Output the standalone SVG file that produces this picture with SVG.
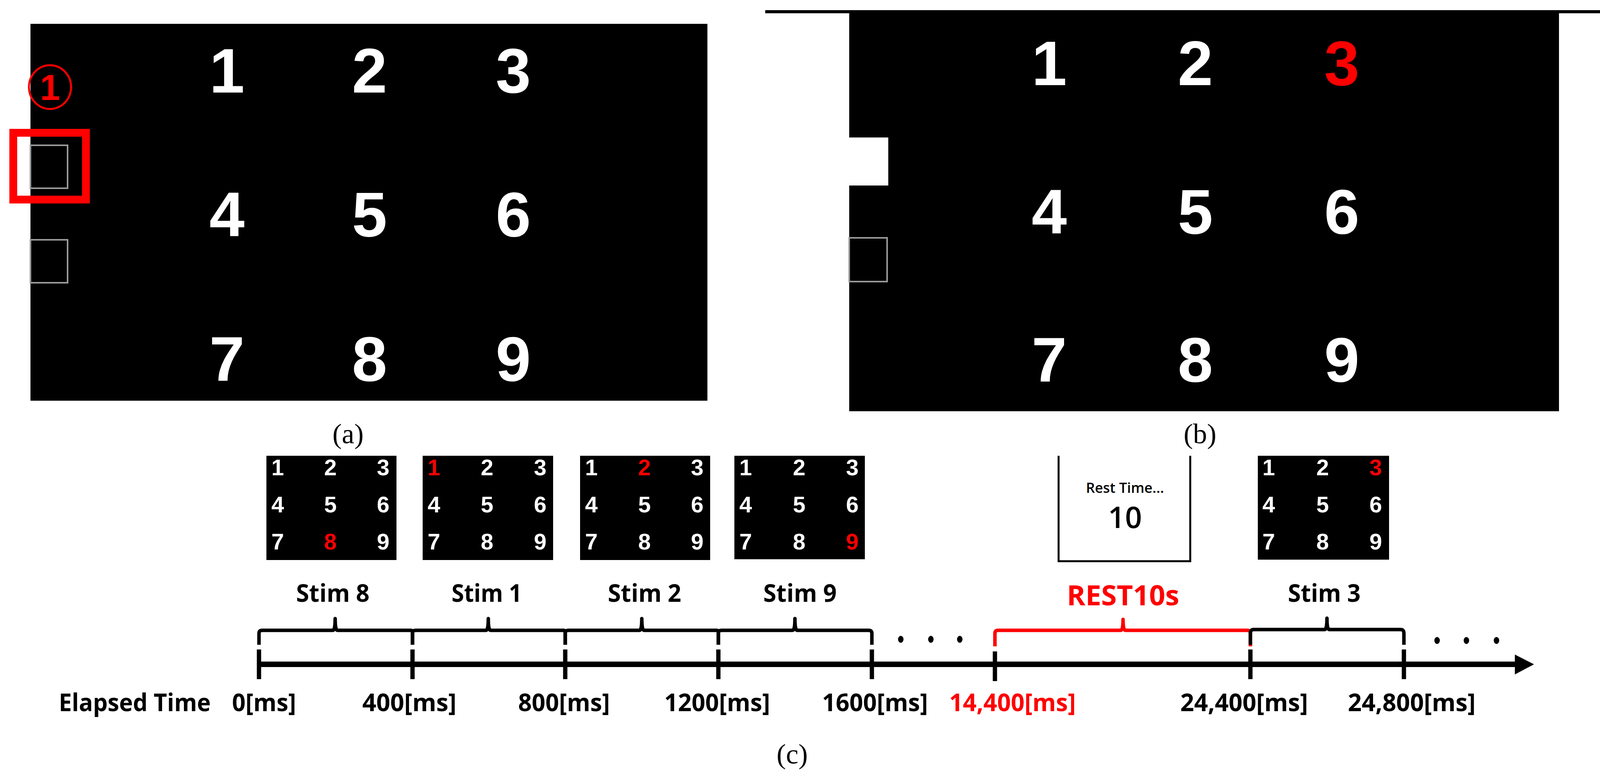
<svg xmlns="http://www.w3.org/2000/svg" width="4236" height="1987" viewBox="0 0 4236 1987">
<style>
.big{font-family:"Liberation Sans",Arial,sans-serif;font-weight:bold;font-size:162px;fill:#fff;text-anchor:middle}
.sm{font-family:"Liberation Sans",Arial,sans-serif;font-weight:bold;font-size:58px;fill:#fff;text-anchor:middle}
.red{fill:#f00}
.lab{font-family:"Open Sans",sans-serif;font-weight:bold;font-size:63px;fill:#000;text-anchor:middle}
.cap{font-family:"Liberation Serif",serif;font-size:72px;fill:#000;text-anchor:middle}
.br{fill:none;stroke:#000;stroke-width:9;stroke-linejoin:round}
.tick{stroke:#000;stroke-width:11}
</style>
<rect width="4236" height="1987" fill="#fff"/>
<g id="panel-a">
<rect x="78" y="61" width="1733" height="965" fill="#000"/>
<text class="big" x="581" y="237">1</text><text class="big" x="946" y="237">2</text><text class="big" x="1314" y="237">3</text>
<text class="big" x="581" y="605">4</text><text class="big" x="946" y="605">5</text><text class="big" x="1314" y="605">6</text>
<text class="big" x="581" y="975">7</text><text class="big" x="946" y="975">8</text><text class="big" x="1314" y="975">9</text>
<rect x="78" y="372" width="95" height="110" fill="none" stroke="#999" stroke-width="4"/>
<rect x="78" y="614" width="95" height="110" fill="none" stroke="#999" stroke-width="4"/>
<rect x="34" y="340" width="186" height="171" fill="none" stroke="#f00" stroke-width="20"/>
<ellipse cx="128" cy="223" rx="54" ry="56" fill="none" stroke="#f00" stroke-width="5"/>
<text x="128" y="256" font-family="Liberation Sans,Arial,sans-serif" font-weight="bold" font-size="92" fill="#f00" text-anchor="middle">1</text>
<text class="cap" x="891" y="1135">(a)</text>
</g>
<g id="panel-b">
<line x1="1959" y1="30" x2="4209" y2="30" stroke="#000" stroke-width="8"/>
<rect x="2174" y="34" width="1817" height="1019" fill="#000"/>
<text class="big" x="2686" y="218">1</text><text class="big" x="3060" y="218">2</text><text class="big red" x="3435" y="218">3</text>
<text class="big" x="2686" y="598">4</text><text class="big" x="3060" y="598">5</text><text class="big" x="3435" y="598">6</text>
<text class="big" x="2686" y="977">7</text><text class="big" x="3060" y="977">8</text><text class="big" x="3435" y="977">9</text>
<rect x="2174" y="352" width="100" height="123" fill="#fff"/>
<rect x="2174" y="609" width="97" height="112" fill="none" stroke="#999" stroke-width="4"/>
<text class="cap" x="3072" y="1135">(b)</text>
</g>
<g id="stim8">
<rect x="682" y="1167" width="333" height="267" fill="#000"/>
<text class="sm" x="711" y="1217">1</text><text class="sm" x="846" y="1217">2</text><text class="sm" x="981" y="1217">3</text>
<text class="sm" x="711" y="1312">4</text><text class="sm" x="846" y="1312">5</text><text class="sm" x="981" y="1312">6</text>
<text class="sm" x="711" y="1407">7</text><text class="sm red" x="846" y="1407">8</text><text class="sm" x="981" y="1407">9</text>
</g>
<g id="stim1">
<rect x="1082" y="1167" width="334" height="267" fill="#000"/>
<text class="sm red" x="1111" y="1217">1</text><text class="sm" x="1247" y="1217">2</text><text class="sm" x="1383" y="1217">3</text>
<text class="sm" x="1111" y="1312">4</text><text class="sm" x="1247" y="1312">5</text><text class="sm" x="1383" y="1312">6</text>
<text class="sm" x="1111" y="1407">7</text><text class="sm" x="1247" y="1407">8</text><text class="sm" x="1383" y="1407">9</text>
</g>
<g id="stim2">
<rect x="1485" y="1167" width="333" height="267" fill="#000"/>
<text class="sm" x="1514" y="1217">1</text><text class="sm red" x="1650" y="1217">2</text><text class="sm" x="1785" y="1217">3</text>
<text class="sm" x="1514" y="1312">4</text><text class="sm" x="1650" y="1312">5</text><text class="sm" x="1785" y="1312">6</text>
<text class="sm" x="1514" y="1407">7</text><text class="sm" x="1650" y="1407">8</text><text class="sm" x="1785" y="1407">9</text>
</g>
<g id="stim9">
<rect x="1880" y="1167" width="334" height="265" fill="#000"/>
<text class="sm" x="1909" y="1217">1</text><text class="sm" x="2046" y="1217">2</text><text class="sm" x="2182" y="1217">3</text>
<text class="sm" x="1909" y="1312">4</text><text class="sm" x="2046" y="1312">5</text><text class="sm" x="2182" y="1312">6</text>
<text class="sm" x="1909" y="1407">7</text><text class="sm" x="2046" y="1407">8</text><text class="sm red" x="2182" y="1407">9</text>
</g>
<g id="rest">
<path d="M2710 1167 V1437 H3047 V1167" fill="none" stroke="#000" stroke-width="5"/>
<text x="2880" y="1262" font-family="Open Sans,sans-serif" font-weight="600" font-size="36" text-anchor="middle">Rest Time...</text>
<text x="2880" y="1352" font-family="Open Sans,sans-serif" font-weight="600" font-size="76" text-anchor="middle">10</text>
</g>
<g id="stim3">
<rect x="3220" y="1167" width="336" height="266" fill="#000"/>
<text class="sm" x="3248" y="1217">1</text><text class="sm" x="3386" y="1217">2</text><text class="sm red" x="3522" y="1217">3</text>
<text class="sm" x="3248" y="1312">4</text><text class="sm" x="3386" y="1312">5</text><text class="sm" x="3522" y="1312">6</text>
<text class="sm" x="3248" y="1407">7</text><text class="sm" x="3386" y="1407">8</text><text class="sm" x="3522" y="1407">9</text>
</g>
<g id="labels">
<text class="lab" x="852" y="1541" textLength="188" lengthAdjust="spacingAndGlyphs">Stim 8</text>
<text class="lab" x="1246" y="1541" textLength="180" lengthAdjust="spacingAndGlyphs">Stim 1</text>
<text class="lab" x="1650" y="1541" textLength="188" lengthAdjust="spacingAndGlyphs">Stim 2</text>
<text class="lab" x="2048" y="1541" textLength="188" lengthAdjust="spacingAndGlyphs">Stim 9</text>
<text class="lab" x="2875" y="1550" font-size="72" style="fill:#f00;font-size:72px" textLength="288" lengthAdjust="spacingAndGlyphs">REST10s</text>
<text class="lab" x="3390" y="1541" textLength="186" lengthAdjust="spacingAndGlyphs">Stim 3</text>
<text class="lab" x="345" y="1821" textLength="389" lengthAdjust="spacingAndGlyphs">Elapsed Time</text>
<text class="lab" x="676" y="1821" textLength="164" lengthAdjust="spacingAndGlyphs">0[ms]</text>
<text class="lab" x="1048" y="1821" textLength="241" lengthAdjust="spacingAndGlyphs">400[ms]</text>
<text class="lab" x="1444" y="1821" textLength="235" lengthAdjust="spacingAndGlyphs">800[ms]</text>
<text class="lab" x="1836" y="1821" textLength="271" lengthAdjust="spacingAndGlyphs">1200[ms]</text>
<text class="lab" x="2240" y="1821" textLength="271" lengthAdjust="spacingAndGlyphs">1600[ms]</text>
<text class="lab" x="2592" y="1821" style="fill:#f00" textLength="324" lengthAdjust="spacingAndGlyphs">14,400[ms]</text>
<text class="lab" x="3185" y="1821" textLength="327" lengthAdjust="spacingAndGlyphs">24,400[ms]</text>
<text class="lab" x="3614" y="1821" textLength="327" lengthAdjust="spacingAndGlyphs">24,800[ms]</text>
<text class="cap" x="2028" y="1955">(c)</text>
</g>
<g id="connectors">
<line x1="663" y1="1701" x2="3885" y2="1701" stroke="#000" stroke-width="14"/>
<polygon points="3878,1676 3927,1701 3878,1727" fill="#000"/>
<g class="tick">
<line x1="663" y1="1663" x2="663" y2="1739"/><line x1="1056" y1="1663" x2="1056" y2="1739"/>
<line x1="1447" y1="1663" x2="1447" y2="1739"/><line x1="1839" y1="1663" x2="1839" y2="1739"/>
<line x1="2232" y1="1663" x2="2232" y2="1739"/><line x1="2547" y1="1668" x2="2547" y2="1744"/>
<line x1="3201" y1="1663" x2="3201" y2="1739"/><line x1="3594" y1="1663" x2="3594" y2="1739"/>
</g>
<path class="br" d="M663 1651 V1622 Q663 1614 671 1614 H852 Q858 1614 858 1584 Q858 1614 864 1614 H1052 Q1056 1614 1056 1622 V1651"/>
<path class="br" d="M1056 1651 V1622 Q1056 1614 1064 1614 H1244 Q1250 1614 1250 1584 Q1250 1614 1256 1614 H1443 Q1447 1614 1447 1622 V1651"/>
<path class="br" d="M1447 1651 V1622 Q1447 1614 1455 1614 H1637 Q1643 1614 1643 1584 Q1643 1614 1649 1614 H1835 Q1839 1614 1839 1622 V1651"/>
<path class="br" d="M1839 1651 V1622 Q1839 1614 1847 1614 H2029 Q2035 1614 2035 1584 Q2035 1614 2041 1614 H2224 Q2232 1614 2232 1622 V1651"/>
<path class="br" style="stroke:#f00" d="M2547 1655 V1622 Q2547 1614 2555 1614 H2869 Q2875 1614 2875 1586 Q2875 1614 2881 1614 H3193 Q3201 1614 3201 1622 V1655"/>
<path class="br" d="M3201 1651 V1622 Q3201 1612 3209 1612 H3391 Q3397 1612 3397 1583 Q3397 1612 3403 1612 H3586 Q3594 1612 3594 1622 V1651"/>
<g fill="#000">
<ellipse cx="2306" cy="1637" rx="7" ry="9"/><ellipse cx="2383" cy="1637" rx="7" ry="9"/><ellipse cx="2457" cy="1637" rx="7" ry="9"/>
<ellipse cx="3679" cy="1640" rx="7" ry="9"/><ellipse cx="3754" cy="1640" rx="7" ry="9"/><ellipse cx="3831" cy="1640" rx="7" ry="9"/>
</g>
</g>
</svg>
